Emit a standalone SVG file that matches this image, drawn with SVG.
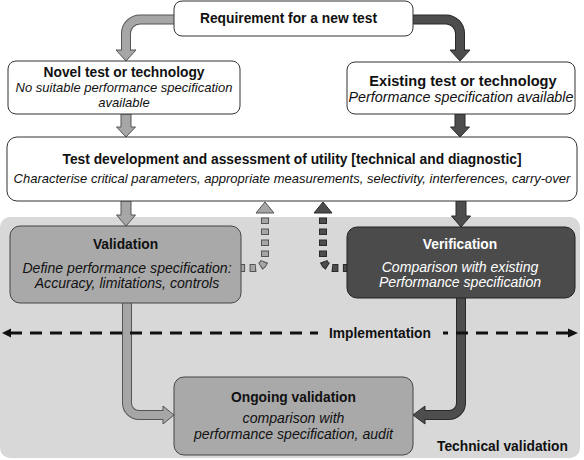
<svg xmlns="http://www.w3.org/2000/svg" width="584" height="460" viewBox="0 0 584 460">
<style>
  text { font-family: "Liberation Sans", Arial, sans-serif; fill: #111; text-anchor: middle; }
  .t { font-weight: bold; font-size: 13.8px; }
  .s { font-style: italic; font-size: 13px; }
  .s14 { font-style: italic; font-size: 14.1px; }
  .w { fill: #fff; }
  .box { fill: #fff; stroke: #333; stroke-width: 1; }
  .mid { fill: #a9a9a9; stroke: #444; stroke-width: 1; }
  .dark { fill: #4b4b4b; stroke: #222; stroke-width: 1; }
  .lo { fill: none; stroke: #555; stroke-width: 10; }
  .li { fill: none; stroke: #a6a6a6; stroke-width: 8; }
  .lh { fill: #a6a6a6; stroke: #555; stroke-width: 1; }
  .do { fill: none; stroke: #2a2a2a; stroke-width: 10; }
  .di { fill: none; stroke: #4d4d4d; stroke-width: 8; }
  .dh { fill: #4d4d4d; stroke: #2a2a2a; stroke-width: 1; }
  .lod { fill: none; stroke: #555; stroke-width: 8; stroke-dasharray: 6.5 4.5; stroke-dashoffset: 6.5; }
  .lid { fill: none; stroke: #a6a6a6; stroke-width: 6; stroke-dasharray: 4.5 6.5; stroke-dashoffset: 5.5; }
  .dod { fill: none; stroke: #2a2a2a; stroke-width: 8; stroke-dasharray: 6.5 4.5; stroke-dashoffset: 6.5; }
  .did { fill: none; stroke: #4d4d4d; stroke-width: 6; stroke-dasharray: 4.5 6.5; stroke-dashoffset: 5.5; }
  .impl { fill: none; stroke: #111; stroke-width: 3; stroke-dasharray: 12 8; }
</style>

<rect id="technical-validation-area" x="0" y="217" width="580" height="241" rx="10" fill="#d8d8d8"/>

<g id="connectors">
  <!-- Requirement -> Novel -->
  <path class="lo" d="M174,19.5 H140 A14,14 0 0 0 126,33.5 V50"/>
  <polygon class="lh" points="116,50 136,50 126,61"/>
  <path class="li" d="M174,19.5 H140 A14,14 0 0 0 126,33.5 V51.5"/>
  <!-- Requirement -> Existing -->
  <path class="do" d="M413,19.5 H446 A14,14 0 0 1 460,33.5 V50"/>
  <polygon class="dh" points="450,50 470,50 460,61"/>
  <path class="di" d="M413,19.5 H446 A14,14 0 0 1 460,33.5 V51.5"/>
  <!-- Novel -> Test development -->
  <polygon class="lh" points="121,114 131,114 131,127 135.5,127 126,137 116.5,127 121,127"/>
  <!-- Existing -> Test development -->
  <polygon class="dh" points="455,114 465,114 465,127 469.5,127 460,137 450.5,127 455,127"/>
  <!-- Test development -> Validation -->
  <polygon class="lh" points="121,201 131,201 131,215 135.5,215 126,226 116.5,215 121,215"/>
  <!-- Test development -> Verification -->
  <polygon class="dh" points="456,201 466,201 466,216 470.5,216 461,227 451.5,216 456,216"/>
  <!-- Validation -> Test development (dashed feedback) -->
  <path class="lod" d="M265,213 V258 A10,10 0 0 1 255,268 H241"/>
  <path class="lid" d="M265,213 V258 A10,10 0 0 1 255,268 H241"/>
  <polygon class="lh" points="261,213 256,213 265,202 274,213 269,213"/>
  <!-- Verification -> Test development (dashed feedback) -->
  <path class="dod" d="M323,213 V258 A10,10 0 0 0 333,268 H347"/>
  <path class="did" d="M323,213 V258 A10,10 0 0 0 333,268 H347"/>
  <polygon class="dh" points="319,213 314,213 323,202 332,213 327,213"/>
  <!-- Validation -> Ongoing -->
  <path class="lo" d="M127,303 V403 A12,12 0 0 0 139,415 H163"/>
  <polygon class="lh" points="163,406 174,415 163,424"/>
  <path class="li" d="M127,303 V403 A12,12 0 0 0 139,415 H164.5"/>
  <!-- Verification -> Ongoing -->
  <path class="do" d="M461,298 V403 A12,12 0 0 1 449,415 H425"/>
  <polygon class="dh" points="425,406 413,415 425,424"/>
  <path class="di" d="M461,298 V403 A12,12 0 0 1 449,415 H423.5"/>
  <!-- Implementation -->
  <line class="impl" x1="10" y1="333" x2="318" y2="333"/>
  <polygon points="2,333 11,328.5 11,337.5" fill="#111"/>
  <line class="impl" x1="568" y1="333" x2="443" y2="333"/>
  <polygon points="578,333 568,328.5 568,337.5" fill="#111"/>
</g>

<g id="requirement">
  <rect class="box" x="174" y="1" width="239" height="35" rx="8"/>
  <text class="t" x="288.5" y="23">Requirement for a new test</text>
</g>

<g id="novel">
  <rect class="box" x="8" y="61" width="232" height="53" rx="8"/>
  <text class="t" x="124" y="77">Novel test or technology</text>
  <text class="s" x="124" y="92">No suitable performance specification</text>
  <text class="s" x="124" y="107">available</text>
</g>

<g id="existing">
  <rect class="box" x="347" y="62" width="228" height="52" rx="8"/>
  <text class="t" x="463" y="86" style="font-size:14.6px">Existing test or technology</text>
  <text class="s" x="461" y="102" style="font-size:14.3px">Performance specification available</text>
</g>

<g id="test-development">
  <rect class="box" x="7" y="137" width="570" height="64" rx="10"/>
  <text class="t" x="292" y="164">Test development and assessment of utility [technical and diagnostic]</text>
  <text class="s" x="292" y="183">Characterise critical parameters, appropriate measurements, selectivity, interferences, carry-over</text>
</g>

<g id="validation">
  <rect class="mid" x="10" y="226" width="231" height="77" rx="10"/>
  <text class="t" x="125.5" y="249">Validation</text>
  <text class="s14" x="127" y="273">Define performance specification:</text>
  <text class="s14" x="127" y="288">Accuracy, limitations, controls</text>
</g>

<g id="verification">
  <rect class="dark" x="347" y="227" width="228" height="71" rx="10"/>
  <text class="t w" x="460" y="249">Verification</text>
  <text class="s14 w" x="460" y="272">Comparison with existing</text>
  <text class="s14 w" x="460" y="287">Performance specification</text>
</g>

<g id="ongoing-validation">
  <rect class="mid" x="174" y="377" width="239" height="78" rx="10"/>
  <text class="t" x="293.5" y="402">Ongoing validation</text>
  <text class="s14" x="293.5" y="423">comparison with</text>
  <text class="s14" x="293.5" y="439">performance specification, audit</text>
</g>

<g id="labels">
  <text class="t" x="329" y="338" style="text-anchor:start">Implementation</text>
  <text class="t" x="437" y="451" style="text-anchor:start">Technical validation</text>
</g>
</svg>
